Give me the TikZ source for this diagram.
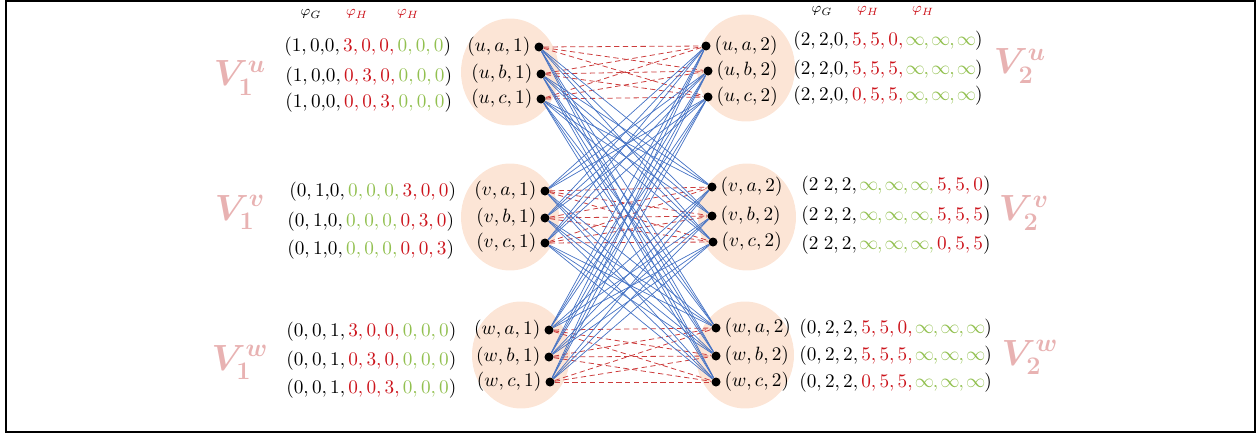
\documentclass[tikz,border=0pt]{standalone}
\usepackage{amsmath,bm}
\usetikzlibrary{positioning,shapes.geometric}
\definecolor{tupred}{RGB}{204,20,28}
\definecolor{tupgreen}{RGB}{146,192,80}
\definecolor{edgeblue}{RGB}{68,114,196}
\definecolor{edgered}{RGB}{204,60,60}
\definecolor{blobfill}{RGB}{252,229,214}
\definecolor{setpink}{RGB}{232,178,178}
\newcommand{\rd}[1]{\textcolor{tupred}{#1}}
\newcommand{\gr}[1]{\textcolor{tupgreen}{#1}}
\newcommand{\inft}{\mkern-1mu\infty\mkern-1mu}
\pgfdeclarelayer{blobs}
\pgfdeclarelayer{edges}
\pgfsetlayers{blobs,edges,main}
\tikzset{
  blob/.style={ellipse, fill=blobfill, minimum width=1.96cm, minimum height=2.14cm, inner sep=0pt},
  vtx/.style={circle, fill=black, minimum size=0.18cm, inner sep=0pt},
  vname/.style={inner sep=1pt, font=\fontsize{10.5}{12}\selectfont},
  tuple/.style={inner sep=0pt, anchor=west, font=\fontsize{10.5}{12}\selectfont},
  setname/.style={text=setpink, font=\fontsize{21}{23}\selectfont},
  head/.style={font=\footnotesize},
  crossedge/.style={draw=edgeblue, line width=0.4pt},
  sameedge/.style={draw=edgered, line width=0.45pt, dash pattern=on 3pt off 2pt}
}
\begin{document}
\begin{tikzpicture}[x=0.02cm, y=-0.02cm]
  \useasboundingbox (0,0) rectangle (1259,433);
  \draw[line width=0.8pt] (6,1) rectangle (1255,432);

  % blobs
  \begin{pgfonlayer}{blobs}
    \node[blob] (bu1) at (510,72) {};
    \node[blob] (bv1) at (510,217) {};
    \node[blob] (bw1) at (521,355) {};
    \node[blob] (bu2) at (746,68) {};
    \node[blob] (bv2) at (747,217) {};
    \node[blob] (bw2) at (745,355) {};
  \end{pgfonlayer}

  % first copy
  \node[vtx] (ua1) at (539,47) {};
  \node[vtx] (ub1) at (541,74) {};
  \node[vtx] (uc1) at (541,99) {};
  \node[vtx] (va1) at (545,191) {};
  \node[vtx] (vb1) at (545,218) {};
  \node[vtx] (vc1) at (545,243) {};
  \node[vtx] (wa1) at (549,330) {};
  \node[vtx] (wb1) at (549,357) {};
  \node[vtx] (wc1) at (550,382) {};

  % second copy
  \node[vtx] (ua2) at (706,46) {};
  \node[vtx] (ub2) at (708,71) {};
  \node[vtx] (uc2) at (708,97) {};
  \node[vtx] (va2) at (712,187) {};
  \node[vtx] (vb2) at (712,216) {};
  \node[vtx] (vc2) at (713,242) {};
  \node[vtx] (wa2) at (716,328) {};
  \node[vtx] (wb2) at (716,356) {};
  \node[vtx] (wc2) at (716,382) {};

  % vertex names
  \foreach \g in {u,v,w}
    \foreach \i in {a,b,c} {
      \node[vname, left=1pt of \g\i1] (l\g\i1) {$(\g,\i,1)$};
      \node[vname, right=1pt of \g\i2] (l\g\i2) {$(\g,\i,2)$};
    }

  % edges
  \begin{pgfonlayer}{edges}
    \foreach \g in {u,v,w}
      \foreach \i in {a,b,c}
        \foreach \j in {a,b,c}
          \draw[sameedge] (\g\i1) -- (\g\j2);
    \foreach \g/\h in {u/v,u/w,v/u,v/w,w/u,w/v}
      \foreach \i in {a,b,c}
        \foreach \j in {a,b,c}
          \draw[crossedge] (\g\i1) -- (\h\j2);
  \end{pgfonlayer}

  % headers
  \node[head] (hgl) at (311,14) {$\varphi_G$};
  \node[head, text=tupred] (hhl) at (357,14) {$\varphi_H$};
  \node[head, text=tupred] (hkl) at (408,14) {$\varphi_H$};
  \node[head] (hgr) at (822,11) {$\varphi_G$};
  \node[head, text=tupred] (hhr) at (868,11) {$\varphi_H$};
  \node[head, text=tupred] (hkr) at (923,11) {$\varphi_H$};

  % labels of the first copy
  \node[tuple] (tua1) at (284,47) {$(1, 0{,}0, \rd{3, 0, 0,\,} \gr{0, 0, 0})$};
  \node[tuple] (tub1) at (285,77) {$(1, 0{,}0, \rd{0, 3, 0,\,} \gr{0, 0, 0})$};
  \node[tuple] (tuc1) at (285,103) {$(1, 0{,}0, \rd{0, 0, 3,\,} \gr{0, 0, 0})$};
  \node[tuple] (tva1) at (289,192) {$(0, 1{,}0, \gr{0, 0, 0,\,} \rd{3, 0, 0})$};
  \node[tuple] (tvb1) at (287,222) {$(0, 1{,}0, \gr{0, 0, 0,\,} \rd{0, 3, 0})$};
  \node[tuple] (tvc1) at (287,250) {$(0, 1{,}0, \gr{0, 0, 0,\,} \rd{0, 0, 3})$};
  \node[tuple] (twa1) at (286,332) {$(0, 0, 1, \rd{3, 0, 0,\,} \gr{0, 0, 0})$};
  \node[tuple] (twb1) at (286,361) {$(0, 0, 1, \rd{0, 3, 0,\,} \gr{0, 0, 0})$};
  \node[tuple] (twc1) at (286,389) {$(0, 0, 1, \rd{0, 0, 3,\,} \gr{0, 0, 0})$};

  % labels of the second copy
  \node[tuple] (tua2) at (793,41) {$(2, 2{,}0, \rd{5, 5, 0,\,} \gr{\inft, \inft, \inft})$};
  \node[tuple] (tub2) at (793,70) {$(2, 2{,}0, \rd{5, 5, 5,\,} \gr{\inft, \inft, \inft})$};
  \node[tuple] (tuc2) at (793,96) {$(2, 2{,}0, \rd{0, 5, 5,\,} \gr{\inft, \inft, \inft})$};
  \node[tuple] (tva2) at (801,186) {$(2\;2, 2, \gr{\inft, \inft, \inft,\,} \rd{5, 5, 0})$};
  \node[tuple] (tvb2) at (801,216) {$(2\;2, 2, \gr{\inft, \inft, \inft,\,} \rd{5, 5, 5})$};
  \node[tuple] (tvc2) at (801,245) {$(2\;2, 2, \gr{\inft, \inft, \inft,\,} \rd{0, 5, 5})$};
  \node[tuple] (twa2) at (799,329) {$(0, 2, 2, \rd{5, 5, 0,\,} \gr{\inft, \inft, \inft})$};
  \node[tuple] (twb2) at (799,356) {$(0, 2, 2, \rd{5, 5, 5,\,} \gr{\inft, \inft, \inft})$};
  \node[tuple] (twc2) at (799,383) {$(0, 2, 2, \rd{0, 5, 5,\,} \gr{\inft, \inft, \inft})$};

  % set names
  \node[setname] (su2) at (1020,66) {$\bm{V_2^u}$};
  \node[setname] (sv2) at (1024,213) {$\bm{V_2^v}$};
  \node[setname] (sw2) at (1030,357) {$\bm{V_2^w}$};
  \node[setname] (su1) at (240,78) {$\bm{V_1^u}$};
  \node[setname] (sv1) at (240,212) {$\bm{V_1^v}$};
  \node[setname] (sw1) at (240,362) {$\bm{V_1^w}$};
\end{tikzpicture}
\end{document}
